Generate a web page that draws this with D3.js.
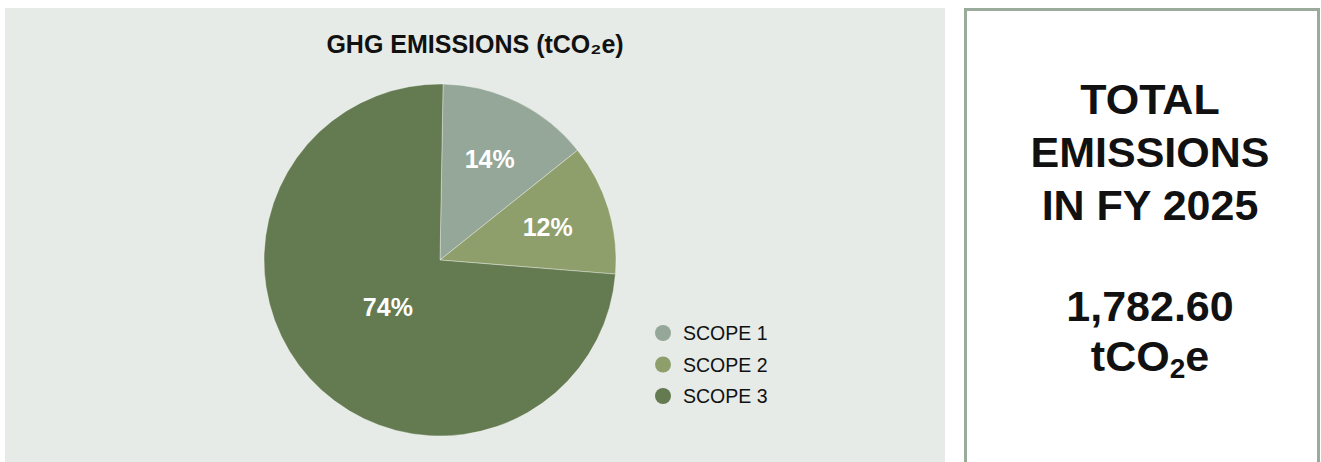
<!DOCTYPE html>
<html>
<head>
<meta charset="utf-8">
<script src="https://cdn.jsdelivr.net/npm/d3@7"></script>
<style>
  html, body { margin: 0; padding: 0; background: #ffffff; }
  svg { display: block; font-family: "Liberation Sans", Arial, Helvetica, sans-serif; }
</style>
</head>
<body>
<svg id="chart" width="1321" height="462"></svg>
<script>
// Emission scopes and their share of the total (percent)
const categories = ["SCOPE 1", "SCOPE 2", "SCOPE 3"];
const shares = [14, 12, 74];
const sliceColors = ["#95a798", "#8f9f6c", "#647a50"];

// Summary panel text
const chartTitle = "GHG EMISSIONS (tCO\u2082e)";
const totalHeading = ["TOTAL", "EMISSIONS", "IN FY 2025"];
const totalEmissions = 1782.60;

const svg = d3.select("#chart");
const W = 1321, H = 462;

// ---- left panel: pie chart ----
svg.append("rect")
  .attr("x", 5).attr("y", 8)
  .attr("width", 940).attr("height", H)
  .attr("fill", "#e6ebe7");

svg.append("text")
  .attr("x", 475).attr("y", 53)
  .attr("text-anchor", "middle")
  .attr("font-size", 25)
  .attr("font-weight", "bold")
  .attr("fill", "#111")
  .text(chartTitle);

const cx = 440, cy = 260, R = 176;
const color = d3.scaleOrdinal().domain(categories).range(sliceColors);

const pie = d3.pie()
  .sort(null)
  .startAngle(Math.PI / 180)
  .endAngle(2 * Math.PI + Math.PI / 180)
  .value(d => d.value);

const data = categories.map((c, i) => ({ name: c, value: shares[i] }));
const arcs = pie(data);

const arc = d3.arc().innerRadius(0).outerRadius(R);
const labelArcSmall = d3.arc().innerRadius(R * 0.64).outerRadius(R * 0.64);
const labelArcLarge = d3.arc().innerRadius(R * 0.4).outerRadius(R * 0.4);

const g = svg.append("g").attr("transform", `translate(${cx},${cy})`);

g.selectAll("path.slice")
  .data(arcs)
  .join("path")
  .attr("class", "slice")
  .attr("d", arc)
  .attr("fill", d => color(d.data.name))
  .attr("stroke", "#ffffff")
  .attr("stroke-opacity", 0.45)
  .attr("stroke-width", 0.8);

g.selectAll("text.pct")
  .data(arcs)
  .join("text")
  .attr("class", "pct")
  .attr("transform", d => {
    const a = d.data.value > 50 ? labelArcLarge : labelArcSmall;
    const [x, y] = a.centroid(d);
    return `translate(${x},${y})`;
  })
  .attr("text-anchor", "middle")
  .attr("dy", "0.36em")
  .attr("font-size", 25)
  .attr("font-weight", "bold")
  .attr("fill", "#ffffff")
  .text(d => d3.format(".0f")(d.data.value) + "%");

// legend
const legendY = d3.scalePoint().domain(categories).range([333, 396]);
const legend = svg.append("g");
const items = legend.selectAll("g")
  .data(categories)
  .join("g")
  .attr("transform", d => `translate(663,${legendY(d)})`);
items.append("circle")
  .attr("r", 8)
  .attr("fill", d => color(d));
items.append("text")
  .attr("x", 20)
  .attr("dy", "0.36em")
  .attr("font-size", 19.5)
  .attr("fill", "#111")
  .text(d => d);

// ---- right panel: total emissions ----
svg.append("rect")
  .attr("x", 965.5).attr("y", 9.5)
  .attr("width", 353).attr("height", H + 20)
  .attr("fill", "#ffffff")
  .attr("stroke", "#9aab9b")
  .attr("stroke-width", 3);

const px = 1150;
const heading = svg.append("g")
  .attr("font-weight", "bold")
  .attr("font-size", 43)
  .attr("fill", "#111")
  .attr("text-anchor", "middle");

heading.selectAll("text.head")
  .data(totalHeading)
  .join("text")
  .attr("class", "head")
  .attr("x", px)
  .attr("y", (d, i) => 114 + i * 53)
  .text(d => d);

heading.append("text")
  .attr("x", px).attr("y", 321)
  .text(d3.format(",.2f")(totalEmissions));

const unit = heading.append("text")
  .attr("x", px).attr("y", 371);
unit.append("tspan").text("tCO");
unit.append("tspan").attr("font-size", 28).attr("dy", 7).text("2");
unit.append("tspan").attr("dy", -7).text("e");
</script>
</body>
</html>
